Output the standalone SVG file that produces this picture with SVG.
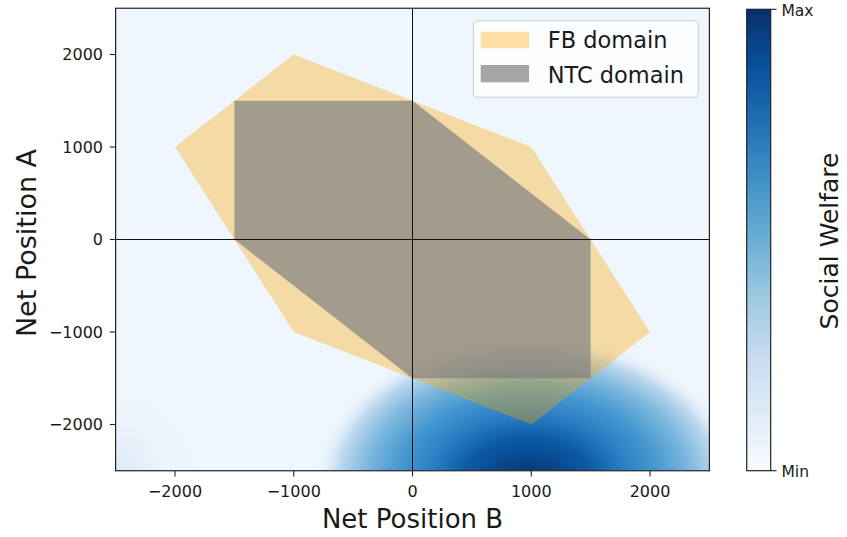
<svg xmlns="http://www.w3.org/2000/svg" width="847" height="537" viewBox="0 0 847 537">
<style>
text{font-family:"DejaVu Sans","Liberation Sans",sans-serif;fill:#1a1a1a}
.tick{font-size:16px}
.tl{stroke:#222;stroke-width:1.1}
.fb{fill:#ffa500;fill-opacity:0.35}
.ntc{fill:#808080;fill-opacity:0.7}
</style>
<defs>
<clipPath id="ax"><rect x="115.6" y="8.25" width="593.8" height="462.5"/></clipPath>
<radialGradient id="blob" cx="528" cy="482" r="1" gradientUnits="userSpaceOnUse" gradientTransform="translate(528 482) scale(215 148) translate(-528 -482)">
<stop offset="0" stop-color="#08306b"/>
<stop offset="0.15" stop-color="#08458a"/>
<stop offset="0.3" stop-color="#0b5aa8"/>
<stop offset="0.45" stop-color="#2a7dc2"/>
<stop offset="0.6" stop-color="#4597d0"/>
<stop offset="0.75" stop-color="#7ab6dd"/>
<stop offset="0.88" stop-color="#bdd8ee"/>
<stop offset="1" stop-color="#eff6fd" stop-opacity="0"/>
</radialGradient>
<radialGradient id="corner" cx="116" cy="471" r="1" gradientUnits="userSpaceOnUse" gradientTransform="translate(116 471) scale(90 90) translate(-116 -471)">
<stop offset="0" stop-color="#dde9f6"/>
<stop offset="1" stop-color="#eff6fd" stop-opacity="0"/>
</radialGradient>
<linearGradient id="cbar" x1="0" y1="1" x2="0" y2="0">
<stop offset="0" stop-color="#f7fbff"/>
<stop offset="0.125" stop-color="#deebf7"/>
<stop offset="0.25" stop-color="#c6dbef"/>
<stop offset="0.375" stop-color="#9ecae1"/>
<stop offset="0.5" stop-color="#6baed6"/>
<stop offset="0.625" stop-color="#4292c6"/>
<stop offset="0.75" stop-color="#2171b5"/>
<stop offset="0.875" stop-color="#08519c"/>
<stop offset="1" stop-color="#08306b"/>
</linearGradient>
</defs>
<rect width="847" height="537" fill="#ffffff"/>
<g id="plot" clip-path="url(#ax)">
<rect x="115.6" y="8.25" width="593.8" height="462.5" fill="#eff6fd"/>
<rect x="115.6" y="300" width="250" height="171" fill="url(#corner)"/>
<rect x="115.6" y="8.25" width="593.8" height="462.5" fill="url(#blob)"/>
</g>
<g id="fb-domain">
<polygon class="fb" points="175,147 293.75,54.5 531.25,147 650,332 531.25,424.5 293.75,332"/>
</g>
<g id="ntc-domain">
<polygon class="ntc" points="234.4,100.75 412.5,100.75 590.6,239.5 590.6,378.25 412.5,378.25 234.4,239.5"/>
</g>
<g id="connectors">
<line x1="412.5" y1="8.25" x2="412.5" y2="470.75" stroke="#111" stroke-width="1"/>
<line x1="115.6" y1="239.5" x2="709.4" y2="239.5" stroke="#111" stroke-width="1"/>
</g>
<g id="axes">
<rect x="115.6" y="8.25" width="593.8" height="462.5" fill="none" stroke="#222" stroke-width="1.2"/>
<line class="tl" x1="175" y1="470.75" x2="175" y2="476.5"/>
<line class="tl" x1="293.75" y1="470.75" x2="293.75" y2="476.5"/>
<line class="tl" x1="412.5" y1="470.75" x2="412.5" y2="476.5"/>
<line class="tl" x1="531.25" y1="470.75" x2="531.25" y2="476.5"/>
<line class="tl" x1="650" y1="470.75" x2="650" y2="476.5"/>
<line class="tl" x1="109.8" y1="54.5" x2="115.6" y2="54.5"/>
<line class="tl" x1="109.8" y1="147" x2="115.6" y2="147"/>
<line class="tl" x1="109.8" y1="239.5" x2="115.6" y2="239.5"/>
<line class="tl" x1="109.8" y1="332" x2="115.6" y2="332"/>
<line class="tl" x1="109.8" y1="424.5" x2="115.6" y2="424.5"/>
<text class="tick" x="175" y="496.5" text-anchor="middle">−2000</text>
<text class="tick" x="293.75" y="496.5" text-anchor="middle">−1000</text>
<text class="tick" x="412.5" y="496.5" text-anchor="middle">0</text>
<text class="tick" x="531.25" y="496.5" text-anchor="middle">1000</text>
<text class="tick" x="650" y="496.5" text-anchor="middle">2000</text>
<text class="tick" x="103" y="60.3" text-anchor="end">2000</text>
<text class="tick" x="103" y="152.8" text-anchor="end">1000</text>
<text class="tick" x="103" y="245.3" text-anchor="end">0</text>
<text class="tick" x="103" y="337.8" text-anchor="end">−1000</text>
<text class="tick" x="103" y="430.3" text-anchor="end">−2000</text>
<text x="412.5" y="528" text-anchor="middle" font-size="26">Net Position B</text>
<text transform="translate(36 243) rotate(-90)" text-anchor="middle" font-size="27">Net Position A</text>
</g>
<g id="legend">
<rect x="473.3" y="20.7" width="225" height="76.6" rx="4" fill="#ffffff" fill-opacity="0.8" stroke="#cccccc" stroke-width="1"/>
<rect class="fb" x="480.7" y="31.7" width="48.3" height="16.6"/>
<rect class="ntc" x="480.7" y="65" width="48.3" height="17.3"/>
<text x="547.7" y="48.3" font-size="22.5">FB domain</text>
<text x="547.7" y="82.5" font-size="22.5">NTC domain</text>
</g>
<g id="colorbar">
<rect x="746.7" y="9.3" width="24" height="461.4" fill="url(#cbar)" stroke="#222" stroke-width="1.2"/>
<line class="tl" x1="770.7" y1="9.3" x2="776.5" y2="9.3"/>
<line class="tl" x1="770.7" y1="470.7" x2="776.5" y2="470.7"/>
<text x="781.5" y="15.5" font-size="15.5">Max</text>
<text x="781.5" y="476.5" font-size="15.5">Min</text>
<text transform="translate(838 241) rotate(-90)" text-anchor="middle" font-size="25">Social Welfare</text>
</g>
</svg>
